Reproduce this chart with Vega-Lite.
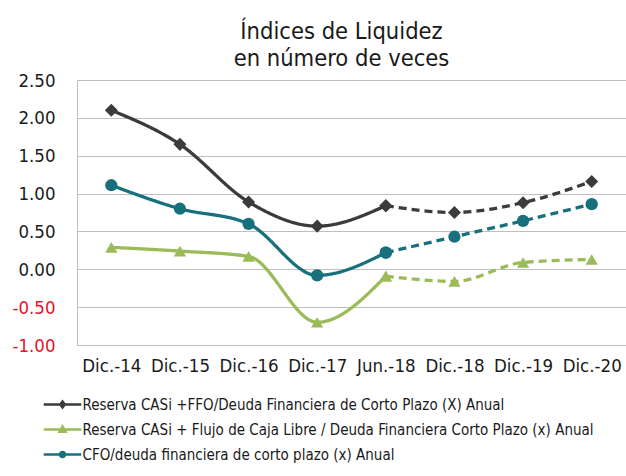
{
  "$schema": "https://vega.github.io/schema/vega-lite/v6.json",
  "width": 549,
  "height": 265,
  "autosize": {"type": "none"},
  "padding": {"left": 77, "top": 80, "right": 0, "bottom": 131},
  "background": "white",
  "config": {"view": {"stroke": null}, "font": "DejaVu Sans Condensed"},
  "title": {
    "text": ["Índices de Liquidez", "en número de veces"],
    "fontSize": 23.5,
    "fontWeight": "normal",
    "font": "DejaVu Sans Condensed",
    "color": "#1a1a1a",
    "lineHeight": 27,
    "offset": 1,
    "dx": -10,
    "anchor": "middle"
  },
  "datasets": {
    "lineas": [
      {"serie": "Reserva CASi +FFO/Deuda Financiera de Corto Plazo (X) Anual", "fecha": "Dic.-14", "valor": 2.10, "tramo": "real"},
      {"serie": "Reserva CASi +FFO/Deuda Financiera de Corto Plazo (X) Anual", "fecha": "Dic.-15", "valor": 1.65, "tramo": "real"},
      {"serie": "Reserva CASi +FFO/Deuda Financiera de Corto Plazo (X) Anual", "fecha": "Dic.-16", "valor": 0.89, "tramo": "real"},
      {"serie": "Reserva CASi +FFO/Deuda Financiera de Corto Plazo (X) Anual", "fecha": "Dic.-17", "valor": 0.57, "tramo": "real"},
      {"serie": "Reserva CASi +FFO/Deuda Financiera de Corto Plazo (X) Anual", "fecha": "Jun.-18", "valor": 0.84, "tramo": "real"},
      {"serie": "Reserva CASi +FFO/Deuda Financiera de Corto Plazo (X) Anual", "fecha": "Jun.-18", "valor": 0.84, "tramo": "proy"},
      {"serie": "Reserva CASi +FFO/Deuda Financiera de Corto Plazo (X) Anual", "fecha": "Dic.-18", "valor": 0.75, "tramo": "proy"},
      {"serie": "Reserva CASi +FFO/Deuda Financiera de Corto Plazo (X) Anual", "fecha": "Dic.-19", "valor": 0.88, "tramo": "proy"},
      {"serie": "Reserva CASi +FFO/Deuda Financiera de Corto Plazo (X) Anual", "fecha": "Dic.-20", "valor": 1.16, "tramo": "proy"},
      {"serie": "Reserva CASi + Flujo de Caja Libre / Deuda Financiera Corto Plazo  (x) Anual", "fecha": "Dic.-14", "valor": 0.29, "tramo": "real"},
      {"serie": "Reserva CASi + Flujo de Caja Libre / Deuda Financiera Corto Plazo  (x) Anual", "fecha": "Dic.-15", "valor": 0.24, "tramo": "real"},
      {"serie": "Reserva CASi + Flujo de Caja Libre / Deuda Financiera Corto Plazo  (x) Anual", "fecha": "Dic.-16", "valor": 0.17, "tramo": "real"},
      {"serie": "Reserva CASi + Flujo de Caja Libre / Deuda Financiera Corto Plazo  (x) Anual", "fecha": "Dic.-17", "valor": -0.70, "tramo": "real"},
      {"serie": "Reserva CASi + Flujo de Caja Libre / Deuda Financiera Corto Plazo  (x) Anual", "fecha": "Jun.-18", "valor": -0.09, "tramo": "real"},
      {"serie": "Reserva CASi + Flujo de Caja Libre / Deuda Financiera Corto Plazo  (x) Anual", "fecha": "Jun.-18", "valor": -0.09, "tramo": "proy"},
      {"serie": "Reserva CASi + Flujo de Caja Libre / Deuda Financiera Corto Plazo  (x) Anual", "fecha": "Dic.-18", "valor": -0.16, "tramo": "proy"},
      {"serie": "Reserva CASi + Flujo de Caja Libre / Deuda Financiera Corto Plazo  (x) Anual", "fecha": "Dic.-19", "valor": 0.09, "tramo": "proy"},
      {"serie": "Reserva CASi + Flujo de Caja Libre / Deuda Financiera Corto Plazo  (x) Anual", "fecha": "Dic.-20", "valor": 0.13, "tramo": "proy"},
      {"serie": "CFO/deuda financiera de corto plazo (x) Anual", "fecha": "Dic.-14", "valor": 1.11, "tramo": "real"},
      {"serie": "CFO/deuda financiera de corto plazo (x) Anual", "fecha": "Dic.-15", "valor": 0.80, "tramo": "real"},
      {"serie": "CFO/deuda financiera de corto plazo (x) Anual", "fecha": "Dic.-16", "valor": 0.60, "tramo": "real"},
      {"serie": "CFO/deuda financiera de corto plazo (x) Anual", "fecha": "Dic.-17", "valor": -0.08, "tramo": "real"},
      {"serie": "CFO/deuda financiera de corto plazo (x) Anual", "fecha": "Jun.-18", "valor": 0.22, "tramo": "real"},
      {"serie": "CFO/deuda financiera de corto plazo (x) Anual", "fecha": "Jun.-18", "valor": 0.22, "tramo": "proy"},
      {"serie": "CFO/deuda financiera de corto plazo (x) Anual", "fecha": "Dic.-18", "valor": 0.43, "tramo": "proy"},
      {"serie": "CFO/deuda financiera de corto plazo (x) Anual", "fecha": "Dic.-19", "valor": 0.64, "tramo": "proy"},
      {"serie": "CFO/deuda financiera de corto plazo (x) Anual", "fecha": "Dic.-20", "valor": 0.86, "tramo": "proy"}
    ]
  },
  "encoding": {
    "x": {
      "field": "fecha",
      "type": "ordinal",
      "sort": ["Dic.-14", "Dic.-15", "Dic.-16", "Dic.-17", "Jun.-18", "Dic.-18", "Dic.-19", "Dic.-20"],
      "scale": {"type": "point", "padding": 0.5},
      "axis": {
        "title": null,
        "labelAngle": 0,
        "labelFontSize": 18.5,
        "labelColor": "#1a1a1a",
        "labelPadding": 11,
        "ticks": false,
        "domain": false,
        "grid": false,
        "labelOverlap": false
      }
    },
    "y": {
      "field": "valor",
      "type": "quantitative",
      "scale": {"domain": [-1, 2.5], "nice": false, "zero": false},
      "axis": {
        "title": null,
        "values": [-1, -0.5, 0, 0.5, 1, 1.5, 2, 2.5],
        "labelExpr": "(datum.value < 0 ? '-' : '') + format(abs(datum.value), '.2f')",
        "labelFontSize": 18.5,
        "labelColor": {"condition": {"test": "datum.value < 0", "value": "#e3142b"}, "value": "#1a1a1a"},
        "labelPadding": 22,
        "ticks": false,
        "domain": true,
        "domainColor": "#bfbfbf",
        "gridColor": "#bfbfbf",
        "gridWidth": 1.2
      }
    }
  },
  "layer": [
    {
      "data": {"name": "lineas"},
      "mark": {"type": "line", "interpolate": "monotone", "strokeWidth": 3.3},
      "encoding": {
        "color": {
          "field": "serie",
          "type": "nominal",
          "scale": {
            "domain": ["Reserva CASi +FFO/Deuda Financiera de Corto Plazo (X) Anual", "Reserva CASi + Flujo de Caja Libre / Deuda Financiera Corto Plazo  (x) Anual", "CFO/deuda financiera de corto plazo (x) Anual"],
            "range": ["#3b3b3b", "#9bbb59", "#17707c"]
          }
        },
        "strokeDash": {
          "field": "tramo",
          "type": "nominal",
          "scale": {"domain": ["real", "proy"], "range": [[1, 0], [8, 5]]},
          "legend": null
        }
      }
    },
    {
      "data": {"name": "lineas"},
      "transform": [{"filter": "datum.serie == 'Reserva CASi + Flujo de Caja Libre / Deuda Financiera Corto Plazo  (x) Anual'"}],
      "mark": {"type": "point", "shape": "triangle-up", "filled": true, "opacity": 1, "color": "#9bbb59", "size": 150}
    },
    {
      "data": {"name": "lineas"},
      "transform": [{"filter": "datum.serie == 'CFO/deuda financiera de corto plazo (x) Anual'"}],
      "mark": {"type": "point", "shape": "circle", "filled": true, "opacity": 1, "color": "#17707c", "size": 150}
    },
    {
      "data": {"name": "lineas"},
      "transform": [{"filter": "datum.serie == 'Reserva CASi +FFO/Deuda Financiera de Corto Plazo (X) Anual'"}],
      "mark": {"type": "point", "shape": "diamond", "filled": true, "opacity": 1, "color": "#3b3b3b", "size": 170}
    },
    {
      "data": {"name": "lineas"},
      "mark": {"type": "point", "filled": true, "opacity": 0},
      "encoding": {
        "color": {
          "field": "serie",
          "type": "nominal",
          "legend": {
            "title": null,
            "orient": "none",
            "legendX": -23.5,
            "legendY": 315.5,
            "direction": "vertical",
            "padding": 0,
            "labelFontSize": 15,
            "labelColor": "#1a1a1a",
            "labelLimit": 700,
            "labelOffset": 11,
            "rowPadding": 8,
            "symbolSize": 225,
            "symbolStrokeWidth": 2.5,
            "symbolOpacity": 1,
            "encode": {"symbols": {"update": {"stroke": {"scale": "color", "field": "value"}, "fill": {"scale": "color", "field": "value"}, "opacity": {"value": 1}}}}
          }
        },
        "shape": {
          "field": "serie",
          "type": "nominal",
          "scale": {
            "domain": ["Reserva CASi +FFO/Deuda Financiera de Corto Plazo (X) Anual", "Reserva CASi + Flujo de Caja Libre / Deuda Financiera Corto Plazo  (x) Anual", "CFO/deuda financiera de corto plazo (x) Anual"],
            "range": [
              "M-2.5,0H2.5M0,-0.4L0.3,0L0,0.4L-0.3,0Z",
              "M-2.5,0H2.5M-0.4,0.3L0,-0.4L0.4,0.3Z",
              "M-2.5,0H2.5M-0.33,0A0.33,0.33,0,1,0,0.33,0A0.33,0.33,0,1,0,-0.33,0Z"
            ]
          },
          "legend": {
            "title": null,
            "orient": "none",
            "legendX": -23.5,
            "legendY": 315.5,
            "direction": "vertical",
            "padding": 0,
            "labelFontSize": 15,
            "labelColor": "#1a1a1a",
            "labelLimit": 700,
            "labelOffset": 11,
            "rowPadding": 8,
            "symbolSize": 225,
            "symbolStrokeWidth": 2.5,
            "symbolOpacity": 1,
            "encode": {"symbols": {"update": {"stroke": {"scale": "color", "field": "value"}, "fill": {"scale": "color", "field": "value"}, "opacity": {"value": 1}}}}
          }
        }
      }
    }
  ]
}
